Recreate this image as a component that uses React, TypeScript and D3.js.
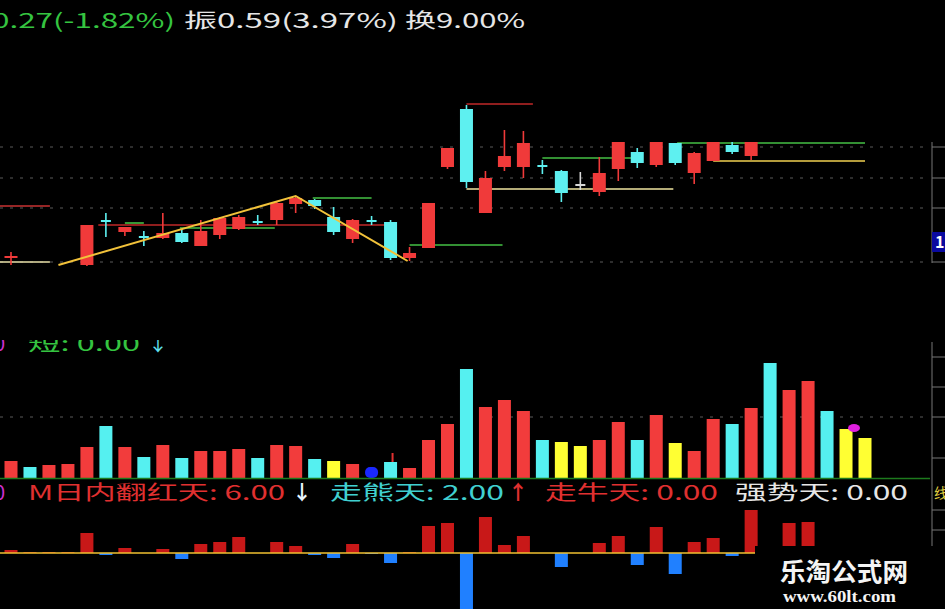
import React from 'react';
import * as d3 from 'd3';

const dayIndex = [0,1,2,3,4,5,6,7,8,9,10,11,12,13,14,15,16,17,18,19,20,21,22,23,24,25,26,27,28,29,30,31,32,33,34,35,36,37,38,39,40,41,42,43,44,45];

const opens = [13.54, null, null, null, 13.47, 13.91, 13.80, 13.75, 13.74, 13.79, 13.66, 13.77, 13.83, 13.90, 13.92, 14.08, 14.12, 13.95, 13.73, 13.91, 13.90, 13.54, 13.64, 14.45, 15.03, 13.99, 14.45, 14.45, 14.46, 14.41, 14.27, 14.20, 14.43, 14.60, 14.47, 14.69, 14.39, 14.51, 14.67, 14.56];
const highs = [13.60, null, null, null, 13.87, 13.99, 13.85, 13.81, 13.99, 13.83, 13.92, 13.95, 13.97, 13.97, 14.10, 14.16, 14.13, 14.05, 13.93, 13.96, 13.92, 13.65, 14.09, 14.64, 15.07, 14.41, 14.82, 14.81, 14.52, 14.42, 14.40, 14.55, 14.70, 14.64, 14.70, 14.69, 14.60, 14.70, 14.70, 14.70];
const lows = [13.47, null, null, null, 13.46, 13.75, 13.76, 13.66, 13.73, 13.69, 13.66, 13.73, 13.82, 13.87, 13.87, 13.99, 14.03, 13.77, 13.69, 13.87, 13.52, 13.51, 13.64, 14.43, 14.24, 13.99, 14.41, 14.34, 14.38, 14.10, 14.22, 14.16, 14.31, 14.44, 14.45, 14.47, 14.28, 14.51, 14.58, 14.52];
const closes = [13.56, null, null, null, 13.87, 13.90, 13.85, 13.74, 13.79, 13.70, 13.81, 13.94, 13.95, 13.89, 14.09, 14.14, 14.06, 13.80, 13.92, 13.90, 13.54, 13.59, 14.09, 14.64, 14.30, 14.34, 14.56, 14.69, 14.45, 14.19, 14.27, 14.39, 14.70, 14.49, 14.70, 14.49, 14.59, 14.70, 14.60, 14.70];

const volumes = [1700, 1100, 1300, 1400, 3100, 5200, 3100, 2100, 3300, 2000, 2700, 2700, 2900, 2000, 3300, 3200, 1900, 1700, 1400, 1100, 1600, 1000, 3800, 5400, 10900, 7100, 7800, 6700, 3800, 3600, 3200, 3800, 5600, 3800, 6300, 3500, 2700, 5900, 5400, 7000, 11500, 8800, 9700, 6700, 4900, 4000];
const volumeKinds = ['r','c','r','r','r','c','r','c','r','c','r','r','r','c','r','r','c','y','r','b','c','r','r','r','c','r','r','r','c','y','y','r','r','c','r','y','r','r','c','r','c','r','r','c','y','y'];

const oscValues = [0.006, 0.002, 0.002, 0.002, 0.040, -0.004, 0.010, 0, 0.008, -0.012, 0.018, 0.022, 0.032, 0, 0.022, 0.014, -0.004, -0.010, 0.018, -0.002, -0.020, 0.002, 0.054, 0.060, -0.130, 0.072, 0.016, 0.034, 0, -0.028, 0, 0.020, 0.034, -0.024, 0.052, -0.042, 0.022, 0.030, -0.006, 0.086, 0, 0.060, 0.062, 0, 0, 0];

const segFrom = [-1, -1, 4.6, 6, 8.9, 15.9, 21, 24, 24, 28, 35.1, 37];
const segTo = [2.05, 2.05, 20, 7, 13.9, 19, 25.9, 27.5, 34.9, 32.9, 45, 45];
const segValue = [14.06, 13.50, 13.87, 13.89, 13.84, 14.14, 13.67, 15.08, 14.23, 14.54, 14.69, 14.51];
const segColor = ['#c83232', '#e8e0a8', '#c02828', '#44c044', '#44c044', '#44c044', '#44c044', '#c02828', '#f0e6a0', '#44c044', '#44c044', '#f0d050'];

const zigzagDays = [2.5, 15, 20.9];
const zigzagPrices = [13.47, 14.16, 13.51];

const priceGrid = [14.65, 14.34, 14.04, 13.50];
const volumeGrid = [6100];
const volumeTicks = [12100, 9100, 6100, 2000];

const UP = '#f03a3a';
const DOWN = '#5ef0f0';
const FLAT = '#d8d8d8';
const volColor: Record<string, string> = { r: '#f23c3c', c: '#55f0f0', y: '#ffff33', b: '#1a28ff' };
const FONT = '"Noto Sans CJK SC", "DejaVu Sans", sans-serif';
const ADJ = 'spacingAndGlyphs';

export default function App() {
  const W = 945, H = 609;
  const x = d3.scaleLinear().domain([0, 45]).range([11, 865]);
  const yP = d3.scaleLinear().domain([13.5, 15.17]).range([262, 95]);
  const yV = d3.scaleLinear().domain([0, 12000]).range([478, 358]);
  const yO = d3.scaleLinear().domain([-0.12, 0.1]).range([613, 503]);
  const bw = 13;

  const zig = d3.line<number>().x((_, i) => x(zigzagDays[i])).y((d) => yP(d))(zigzagPrices) || '';

  return (
    <svg width={W} height={H} style={{ position: 'absolute', left: 0, top: 0, background: '#000' }} fontFamily={FONT}>
      <defs>
        <clipPath id="volLegendClip"><rect x={0} y={340} width={W} height={20} /></clipPath>
        <clipPath id="oscClip"><rect x={0} y={505} width={W} height={104} /></clipPath>
      </defs>
      <rect x={0} y={0} width={W} height={H} fill="#000" />

      {/* title */}
      <text x={-8} y={28} fontSize={20} fill="#35c440" textLength={183} lengthAdjust={ADJ}>0.27(-1.82%)</text>
      <text x={184} y={28} fontSize={20} fill="#e6e6e6" textLength={214} lengthAdjust={ADJ}>振0.59(3.97%)</text>
      <text x={405} y={28} fontSize={20} fill="#e6e6e6" textLength={120} lengthAdjust={ADJ}>换9.00%</text>

      {/* main grid */}
      {priceGrid.map((p, i) => (
        <line key={'pg' + i} x1={0} x2={930} y1={yP(p)} y2={yP(p)} stroke="#5a5a5a" strokeWidth={1} strokeDasharray="3,7" />
      ))}
      <line x1={932} x2={932} y1={142} y2={263} stroke="#777" />
      {priceGrid.map((p, i) => (
        <line key={'pt' + i} x1={932} x2={945} y1={yP(p)} y2={yP(p)} stroke="#777" />
      ))}
      <rect x={932} y={232} width={13} height={20} fill="#0a0aa0" />
      <text x={935} y={248} fontSize={16} fontWeight="bold" fill="#fff">1</text>

      {/* level segments */}
      {segValue.map((v, i) => (
        <line key={'sg' + i} x1={x(segFrom[i])} x2={x(segTo[i])} y1={yP(v)} y2={yP(v)} stroke={segColor[i]} strokeWidth={1.6} />
      ))}

      {/* candles */}
      {opens.map((o, i) => {
        const c = closes[i], h = highs[i], l = lows[i];
        if (o == null || c == null || h == null || l == null) return null;
        const cx = x(dayIndex[i]);
        const col = c > o ? UP : c < o ? DOWN : FLAT;
        const top = yP(Math.max(o, c));
        const bh = Math.max(2, Math.abs(yP(o) - yP(c)));
        const doji = Math.abs(yP(o) - yP(c)) < 2;
        return (
          <g key={'cd' + i}>
            <line x1={cx} x2={cx} y1={yP(h)} y2={yP(l)} stroke={col} strokeWidth={1.6} />
            {doji ? (
              <rect x={cx - 5} y={top - 1} width={10} height={2} fill={col} />
            ) : (
              <rect x={cx - bw / 2} y={top} width={bw} height={bh} fill={col} />
            )}
          </g>
        );
      })}

      <path d={zig} fill="none" stroke="#f2c23a" strokeWidth={2} />

      {/* volume panel */}
      <g clipPath="url(#volLegendClip)">
        <text x={-6} y={351} fontSize={20} fill="#d030d0">0</text>
        <text x={28} y={351} fontSize={20} fill="#35c440" textLength={112} lengthAdjust={ADJ}>短: 0.00</text>
        <text x={148} y={351} fontSize={20} fill="#60e0f0">↓</text>
      </g>
      {volumeGrid.map((v, i) => (
        <line key={'vg' + i} x1={0} x2={930} y1={yV(v)} y2={yV(v)} stroke="#5a5a5a" strokeDasharray="3,7" />
      ))}
      <line x1={932} x2={932} y1={342} y2={547} stroke="#777" />
      {volumeTicks.map((v, i) => (
        <line key={'vt' + i} x1={932} x2={945} y1={yV(v)} y2={yV(v)} stroke="#777" />
      ))}
      <line x1={932} x2={945} y1={510} y2={510} stroke="#777" />
      <line x1={932} x2={945} y1={530} y2={530} stroke="#777" />
      {volumes.map((v, i) => {
        const cx = x(dayIndex[i]);
        const k = volumeKinds[i];
        return (
          <rect key={'v' + i} x={cx - bw / 2} y={yV(v)} width={bw} height={yV(0) - yV(v)} fill={volColor[k]} rx={k === 'b' ? 5 : 0} />
        );
      })}
      <line x1={x(dayIndex[20]) + 2} x2={x(dayIndex[20]) + 2} y1={yV(volumes[20]) - 9} y2={yV(volumes[20])} stroke="#e03030" strokeWidth={2} />
      <ellipse cx={x(dayIndex[44]) + 8} cy={yV(volumes[44]) - 1} rx={6} ry={4} fill="#e020e0" />
      <line x1={0} x2={930} y1={478.5} y2={478.5} stroke="#1d7a1d" strokeWidth={1.5} />

      {/* legend row */}
      <text x={-6} y={500} fontSize={20} fill="#d030d0">0</text>
      <text x={28} y={500} fontSize={20} fill="#e03030" textLength={257} lengthAdjust={ADJ}>M日内翻红天: 6.00</text>
      <text x={292} y={500} fontSize={20} fill="#e8f4ff" fontWeight="bold">↓</text>
      <text x={330} y={500} fontSize={20} fill="#40d0d0" textLength={174} lengthAdjust={ADJ}>走熊天: 2.00</text>
      <text x={508} y={500} fontSize={20} fill="#e03030" fontWeight="bold">↑</text>
      <text x={545} y={500} fontSize={20} fill="#e03030" textLength={173} lengthAdjust={ADJ}>走牛天: 0.00</text>
      <text x={735} y={500} fontSize={20} fill="#e6e6e6" textLength={173} lengthAdjust={ADJ}>强势天: 0.00</text>
      <text x={934} y={498} fontSize={14} fill="#e0d040">线</text>

      {/* oscillator panel */}
      <g clipPath="url(#oscClip)">
        {oscValues.map((v, i) => {
          if (v === 0) return null;
          const cx = x(dayIndex[i]);
          return (
            <rect key={'o' + i} x={cx - bw / 2} y={Math.min(yO(v), yO(0))} width={bw} height={Math.abs(yO(v) - yO(0))} fill={v > 0 ? '#c81818' : '#2080ff'} />
          );
        })}
      </g>
      <line x1={0} x2={x(39) + 4} y1={yO(0)} y2={yO(0)} stroke="#f0c030" strokeWidth={1.6} />

      {/* watermark */}
      <rect x={755} y={546} width={190} height={63} fill="#000" />
      <text x={780} y={581} fontSize={25} fontWeight="bold" fill="#f4f4f4" textLength={128} lengthAdjust={ADJ}>乐淘公式网</text>
      <text x={783} y={602} fontSize={16} fontWeight="bold" fill="#f4f4f4" fontFamily='"Liberation Serif", "DejaVu Serif", serif' textLength={113} lengthAdjust={ADJ}>www.60lt.com</text>
    </svg>
  );
}
